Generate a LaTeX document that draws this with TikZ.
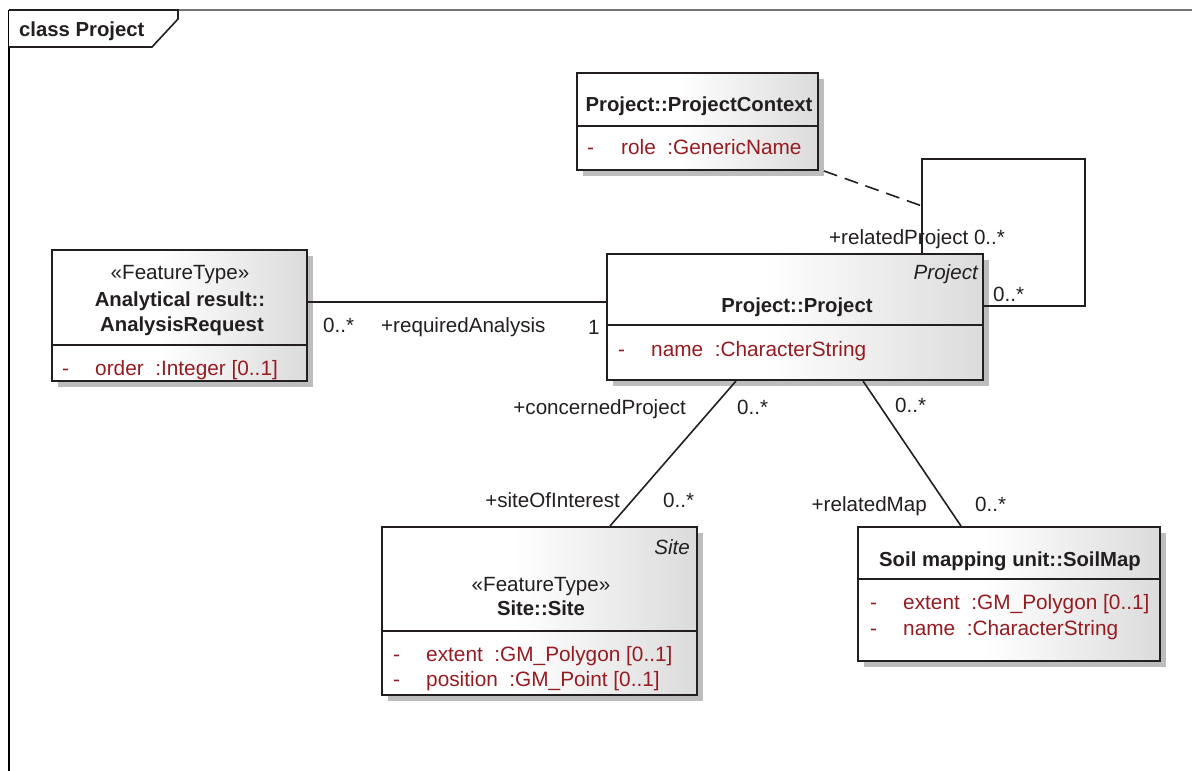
\documentclass[tikz,border=0pt]{standalone}
\usepackage{fontspec}
\setmainfont{Liberation Sans}
\usetikzlibrary{calc,shadows}
\definecolor{attr}{RGB}{150,28,34}
\definecolor{ink}{RGB}{35,31,32}
\pgfdeclarehorizontalshading{umlbox}{100bp}{color(0bp)=(white); color(25bp)=(white); color(46bp)=(white); color(75bp)=(black!14); color(100bp)=(black!14)}
\tikzset{
  umlclass/.style={draw=ink, line width=2pt, shade, shading=umlbox, inner sep=0pt,
    drop shadow={shadow xshift=6pt, shadow yshift=-6pt, fill=black!26, opacity=1}},
  divider/.style={draw=ink, line width=2pt},
  conn/.style={draw=ink, line width=1.6pt},
  txt/.style={inner sep=0pt, text=ink, font=\fontsize{20.6}{24}\selectfont},
  title/.style={txt, font=\fontsize{20.3}{24}\selectfont\bfseries},
  stereo/.style={txt},
  ital/.style={txt, font=\fontsize{20.6}{24}\selectfont\itshape},
  attrtxt/.style={inner sep=0pt, text=attr, font=\fontsize{20.8}{24}\selectfont},
  lbl/.style={txt},
}
\begin{document}
\begin{tikzpicture}[x=1pt,y=-1pt]
\useasboundingbox (0,0) rectangle (1192,771);
% frame
\draw[line width=2pt, draw=black!55] (9,10) -- (1192,10);
\draw[line width=2pt, draw=black] (9,10) -- (9,771);
\draw[line width=1.6pt, draw=ink, fill=white] (9,10) -- (178,10) -- (178,19) -- (152,47) -- (9,47);
\node[title, anchor=base west] (tabtxt) at (19,36) {class Project};

% ProjectContext
\node[umlclass, minimum width=241pt, minimum height=97pt] (ctx) at (697.5,121.5) {};
\draw[divider] ($(ctx.north west)+(0,54)$) -- ($(ctx.north east)+(0,54)$);
\node[title, anchor=base] (ctxT) at (699,111) {Project::ProjectContext};
\node[attrtxt, anchor=base west] (ctxD) at (587,154) {-};
\node[attrtxt, anchor=base west] (ctxA) at (621,154) {role~~:GenericName};

% Project
\node[umlclass, minimum width=376pt, minimum height=126pt] (proj) at (795,317) {};
\draw[divider] ($(proj.north west)+(0,72)$) -- ($(proj.north east)+(0,72)$);
\node[ital, anchor=base east] (projS) at (978,279) {Project};
\node[title, anchor=base] (projT) at (797,312) {Project::Project};
\node[attrtxt, anchor=base west] (projD) at (618,356) {-};
\node[attrtxt, anchor=base west] (projA) at (651,356) {name~~:CharacterString};

% AnalysisRequest
\node[umlclass, minimum width=255pt, minimum height=131pt] (req) at (179.5,315.5) {};
\draw[divider] ($(req.north west)+(0,96)$) -- ($(req.north east)+(0,96)$);
\node[stereo, anchor=base] (reqS) at (180,279) {«FeatureType»};
\node[title, anchor=base] (reqT1) at (180,306) {Analytical result::};
\node[title, anchor=base] (reqT2) at (182,331) {AnalysisRequest};
\node[attrtxt, anchor=base west] (reqD) at (62,375) {-};
\node[attrtxt, anchor=base west] (reqA) at (95,375) {order~~:Integer [0..1]};

% Site
\node[umlclass, minimum width=315pt, minimum height=168pt] (site) at (539.5,611) {};
\draw[divider] ($(site.north west)+(0,105)$) -- ($(site.north east)+(0,105)$);
\node[ital, anchor=base east] (siteS) at (690,554) {Site};
\node[stereo, anchor=base] (siteF) at (541,591) {«FeatureType»};
\node[title, anchor=base] (siteT) at (541,615) {Site::Site};
\node[attrtxt, anchor=base west] (siteD1) at (393,661) {-};
\node[attrtxt, anchor=base west] (siteA1) at (426,661) {extent~~:GM\_Polygon [0..1]};
\node[attrtxt, anchor=base west] (siteD2) at (393,686) {-};
\node[attrtxt, anchor=base west] (siteA2) at (426,686) {position~~:GM\_Point [0..1]};

% SoilMap
\node[umlclass, minimum width=302pt, minimum height=134pt] (soil) at (1009,594) {};
\draw[divider] ($(soil.north west)+(0,53)$) -- ($(soil.north east)+(0,53)$);
\node[title, anchor=base] (soilT) at (1010,566) {Soil mapping unit::SoilMap};
\node[attrtxt, anchor=base west] (soilD1) at (870,609) {-};
\node[attrtxt, anchor=base west] (soilA1) at (903,609) {extent~~:GM\_Polygon [0..1]};
\node[attrtxt, anchor=base west] (soilD2) at (870,635) {-};
\node[attrtxt, anchor=base west] (soilA2) at (903,635) {name~~:CharacterString};

% connectors
\draw[conn] ($(req.north east)+(0,53)$) coordinate (ra) -- (proj.west |- ra);
\node[lbl, anchor=base west] (l1) at (323,332) {0..*};
\node[lbl, anchor=base west] (l2) at (381,332) {+requiredAnalysis};
\node[lbl, anchor=base west] (l3) at (588,334) {1};

\coordinate (loopTL) at (922,159);
\coordinate (loopBR) at (1085,306);
\coordinate (assocpt) at (922,206);
\draw[conn] (proj.north -| loopTL) -- (loopTL) -| (loopBR) -- (proj.east |- loopBR);
\draw[conn, dash pattern=on 14pt off 8pt] ($(ctx.south east)+(5,0)$) -- (assocpt);
\node[lbl, anchor=base west] (l4) at (829,244) {+relatedProject 0..*};
\node[lbl, anchor=base west] (l5) at (993,301) {0..*};

\draw[conn] ($(proj.south west)+(130,0)$) -- ($(site.north west)+(229,0)$);
\node[lbl, anchor=base east] (l6) at (686,414) {+concernedProject};
\node[lbl, anchor=base west] (l7) at (737,414) {0..*};
\node[lbl, anchor=base east] (l8) at (620,507) {+siteOfInterest};
\node[lbl, anchor=base west] (l9) at (663,507) {0..*};

\draw[conn] ($(proj.south west)+(257,0)$) -- ($(soil.north west)+(104,0)$);
\node[lbl, anchor=base west] (l10) at (895,412) {0..*};
\node[lbl, anchor=base east] (l11) at (927,511) {+relatedMap};
\node[lbl, anchor=base west] (l12) at (975,511) {0..*};
\end{tikzpicture}
\end{document}
